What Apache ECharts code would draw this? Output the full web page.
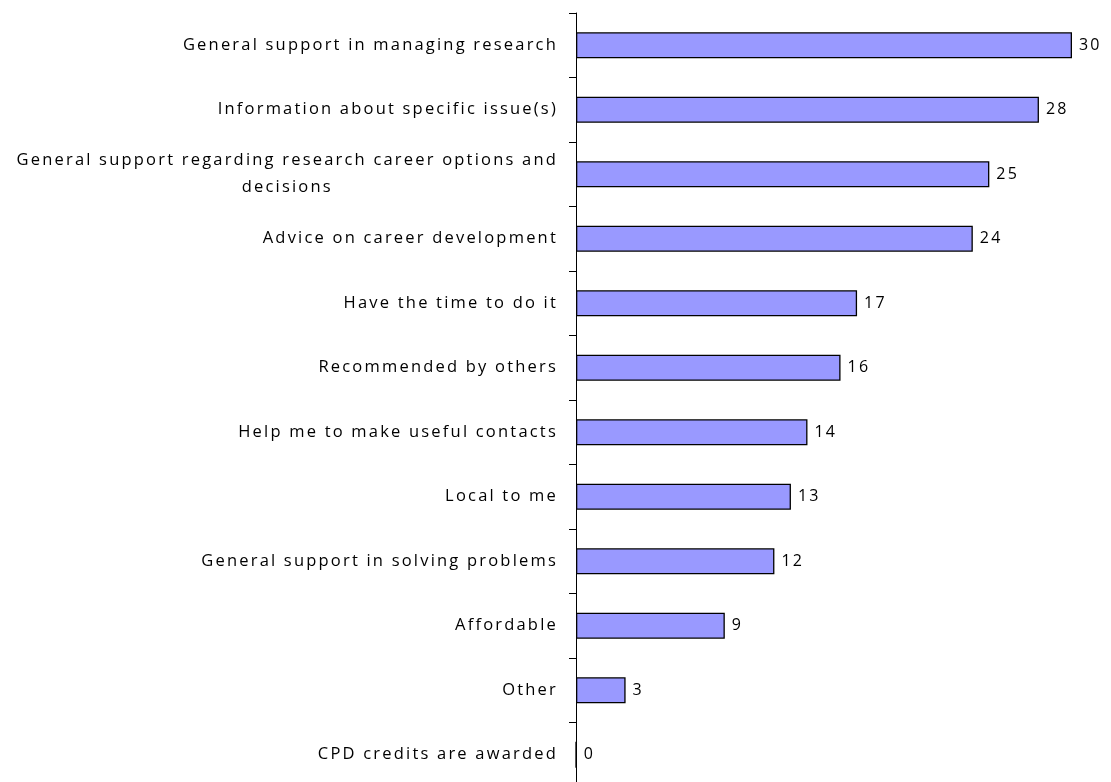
<!DOCTYPE html>
<html>
<head>
<meta charset="utf-8">
<script src="https://cdn.jsdelivr.net/npm/echarts@6/dist/echarts.min.js"></script>
<style>
  html, body { margin: 0; padding: 0; background: #ffffff; overflow: hidden; }
  #chart { width: 1111px; height: 800px; }
</style>
</head>
<body>
<div id="chart"></div>
<script>
// Reasons for taking part, number of respondents per reason
const categories = [
  'General support in managing research',
  'Information about specific issue(s)',
  'General support regarding research career options and\ndecisions',
  'Advice on career development',
  'Have the time to do it',
  'Recommended by others',
  'Help me to make useful contacts',
  'Local to me',
  'General support in solving problems',
  'Affordable',
  'Other',
  'CPD credits are awarded'
];
const counts = [30, 28, 25, 24, 17, 16, 14, 13, 12, 9, 3, 0];

const labelFont = 'Open Sans';

// Loosely tracked lettering: widen the spacing used both for measuring and drawing text
(function () {
  const proto = CanvasRenderingContext2D.prototype;
  const spacing = '2.2px';
  const origFill = proto.fillText;
  const origMeasure = proto.measureText;
  proto.fillText = function () { this.letterSpacing = spacing; return origFill.apply(this, arguments); };
  proto.measureText = function () { this.letterSpacing = spacing; return origMeasure.apply(this, arguments); };
})();

const chart = echarts.init(document.getElementById('chart'), null, { renderer: 'canvas' });

chart.setOption({
  animation: false,
  backgroundColor: '#ffffff',
  grid: { left: 576, top: 13, width: 496, height: 774, containLabel: false },
  xAxis: {
    type: 'value',
    min: 0,
    max: 30,
    show: false
  },
  yAxis: {
    type: 'category',
    data: categories,
    inverse: true,
    axisLine: { show: true, lineStyle: { color: '#000000', width: 1 } },
    axisTick: { show: true, inside: false, length: 7, lineStyle: { color: '#000000', width: 1 } },
    splitLine: { show: false },
    axisLabel: {
      margin: 18,
      color: '#000000',
      fontFamily: labelFont,
      fontSize: 16.5,
      lineHeight: 27,
      formatter: function (value) {
        if (value.indexOf('\n') >= 0) {
          return value.split('\n').map(function (line) { return '{c|' + line + '}'; }).join('\n');
        }
        return value;
      },
      rich: {
        c: { align: 'center', fontFamily: labelFont, fontSize: 16.5, color: '#000000', lineHeight: 27 }
      }
    }
  },
  series: [{
    type: 'bar',
    data: counts,
    barWidth: 26,
    itemStyle: { color: '#9999ff', borderColor: '#000000', borderWidth: 1.3 },
    label: {
      show: true,
      position: 'right',
      distance: 7,
      color: '#000000',
      fontFamily: labelFont,
      fontSize: 16
    }
  }]
});
</script>
</body>
</html>
